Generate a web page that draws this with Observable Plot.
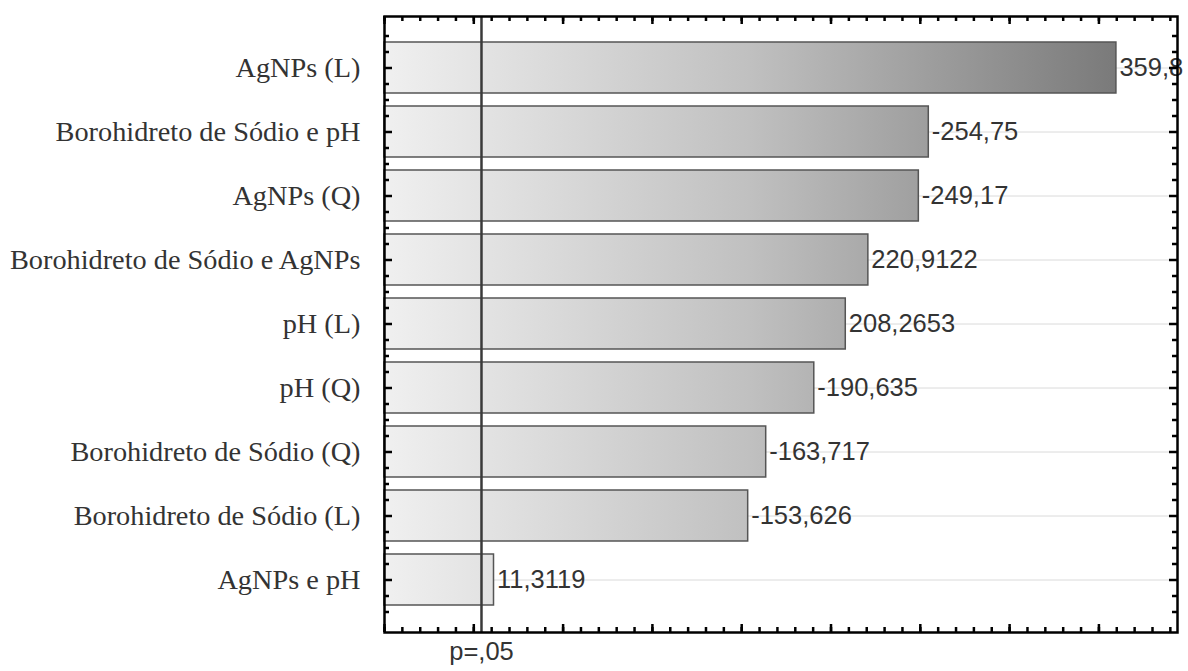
<!DOCTYPE html>
<html><head><meta charset="utf-8">
<script src="https://cdn.jsdelivr.net/npm/d3@7"></script>
<script src="https://cdn.jsdelivr.net/npm/@observablehq/plot@0.6"></script>
<style>body{margin:0;background:#fff;}</style>
</head><body><div id="chart"></div>
<script>
const factors = ["AgNPs (L)", "Borohidreto de Sódio e pH", "AgNPs (Q)", "Borohidreto de Sódio e AgNPs", "pH (L)", "pH (Q)", "Borohidreto de Sódio (Q)", "Borohidreto de Sódio (L)", "AgNPs e pH"];
const effects = [359.8, -254.75, -249.17, 220.9122, 208.2653, -190.635, -163.717, -153.626, 11.3119];
const pCrit = 4.303;
const pLabel = "p=,05";
const xDomain = [-50, 394];
const minorTicks = d3.range(-50, 395, 10);
const majorTicks = d3.range(-50, 395, 50);

const data = factors.map((f, i) => ({factor: f, effect: effects[i], abs: Math.abs(effects[i]), label: String(effects[i]).replace(".", ",")}));

const W = 1188, H = 671, mL = 384, mR = 11, mT = 16, mB = 39;
const iw = W - mL - mR, ih = H - mT - mB;
const minorLen = 5, majorLen = 8, tickW = 2.5;

const yMinor = [-32, -16, 16];
const yTickMarks = [];
for (const d of yMinor) {
  yTickMarks.push(Plot.ruleY(factors, {y: d => d, dy: d, insetRight: iw - minorLen, stroke: "#000", strokeWidth: tickW}));
  yTickMarks.push(Plot.ruleY(factors, {y: d => d, dy: d, insetLeft: iw - minorLen, stroke: "#000", strokeWidth: tickW}));
}
yTickMarks.push(Plot.ruleY(factors.slice(-1), {y: d => d, dy: 32, insetRight: iw - minorLen, stroke: "#000", strokeWidth: tickW}));
yTickMarks.push(Plot.ruleY(factors.slice(-1), {y: d => d, dy: 32, insetLeft: iw - minorLen, stroke: "#000", strokeWidth: tickW}));
yTickMarks.push(Plot.ruleY(factors, {y: d => d, insetRight: iw - majorLen, stroke: "#000", strokeWidth: tickW}));
yTickMarks.push(Plot.ruleY(factors, {y: d => d, insetLeft: iw - majorLen, stroke: "#000", strokeWidth: tickW}));

const chart = Plot.plot({
  width: W, height: H,
  marginLeft: mL, marginRight: mR, marginTop: mT, marginBottom: mB,
  style: {background: "#fff", color: "#333"},
  x: {domain: xDomain, axis: null},
  y: {domain: factors, paddingInner: 0.2, paddingOuter: 0.355, axis: null},
  marks: [
    Plot.ruleY(factors, {y: d => d, stroke: "#dadada", strokeWidth: 1}),
    Plot.barX(data, {x1: xDomain[0], x2: "abs", y: "factor", fill: "url(#barGrad)", stroke: "#555", strokeWidth: 1.5}),
    Plot.ruleX([pCrit], {x: d => d, stroke: "#3a3a3a", strokeWidth: 2.5}),
    Plot.text(data, {x: "abs", y: "factor", text: "label", dx: 3, textAnchor: "start", fontSize: 25.5, fontFamily: "Liberation Sans, Arial, sans-serif", fill: "#333"}),
    Plot.text([{x: pCrit, t: pLabel}], {x: "x", text: "t", frameAnchor: "bottom", dy: 27, fontSize: 25.5, fontFamily: "Liberation Sans, Arial, sans-serif", fill: "#333"}),
    Plot.axisY({tickSize: 0, tickPadding: 24, fontSize: 28.3, fontFamily: "Liberation Serif, Times New Roman, serif", label: null, fill: "#333"}),
    Plot.ruleX(minorTicks, {x: d => d, insetTop: ih - minorLen, stroke: "#000", strokeWidth: tickW}),
    Plot.ruleX(minorTicks, {x: d => d, insetBottom: ih - minorLen, stroke: "#000", strokeWidth: tickW}),
    Plot.ruleX(majorTicks, {x: d => d, insetTop: ih - majorLen, stroke: "#000", strokeWidth: tickW}),
    Plot.ruleX(majorTicks, {x: d => d, insetBottom: ih - majorLen, stroke: "#000", strokeWidth: tickW}),
    ...yTickMarks,
    Plot.frame({stroke: "#000", strokeWidth: 2.5})
  ]
});

const xs = chart.scale("x");
const gx1 = xs.apply(xDomain[0]), gx2 = xs.apply(d3.max(effects.map(Math.abs)));
d3.select(chart).insert("defs", ":first-child").html(
  `<linearGradient id="barGrad" gradientUnits="userSpaceOnUse" x1="${gx1}" y1="0" x2="${gx2}" y2="0">` +
  `<stop offset="0" stop-color="#f0f0f0"/><stop offset="0.5" stop-color="#c0c0c0"/><stop offset="1" stop-color="#7a7a7a"/></linearGradient>`
);
document.getElementById("chart").appendChild(chart);
</script>
</body></html>
